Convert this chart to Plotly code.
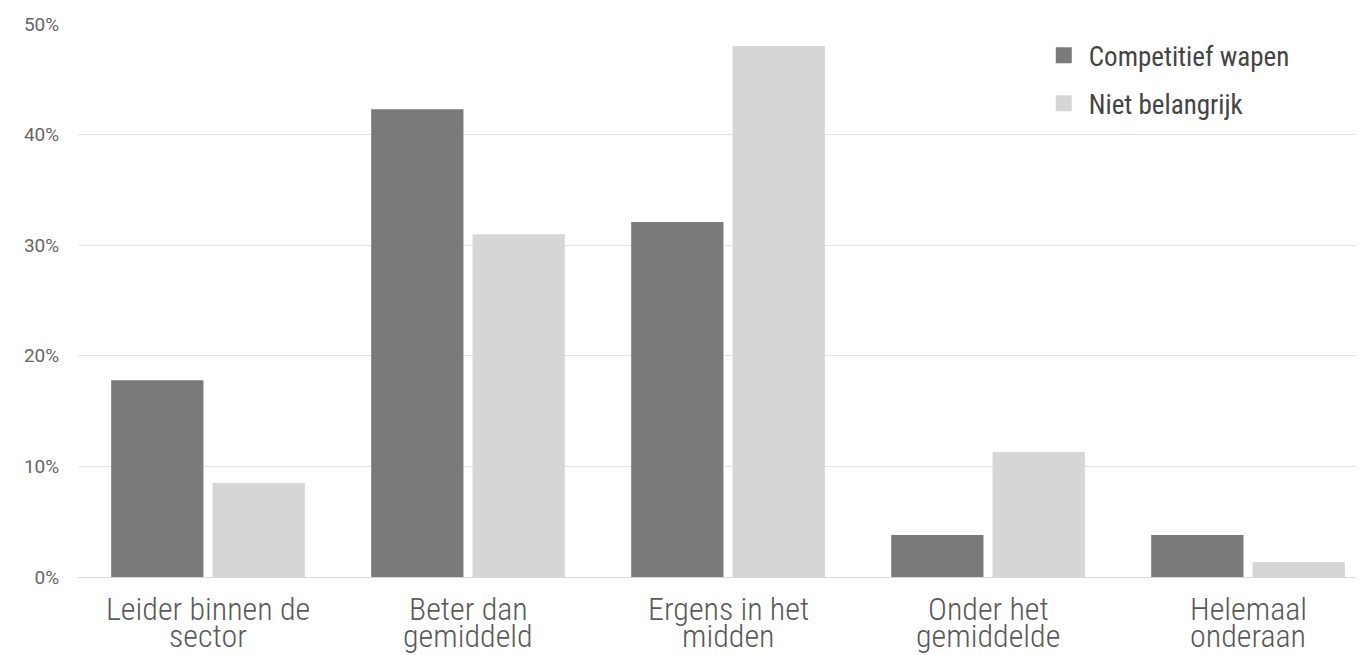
import plotly.graph_objects as go

categories = ["Leider binnen de<br>sector", "Beter dan<br>gemiddeld", "Ergens in het<br>midden",
              "Onder het<br>gemiddelde", "Helemaal<br>onderaan"]
competitief = [0.178, 0.423, 0.321, 0.038, 0.038]
niet_belangrijk = [0.085, 0.310, 0.480, 0.113, 0.0135]
tick_vals = [0, 0.1, 0.2, 0.3, 0.4, 0.5]
tick_text = ["0%", "10%", "20%", "30%", "40%", "50%"]

DARK = "#7a7a7a"
LIGHT = "#d6d6d6"
xs = list(range(len(categories)))

fig = go.Figure()
fig.add_trace(go.Bar(x=xs, y=competitief, name="Competitief wapen",
                     marker=dict(color=DARK, line=dict(width=0)), showlegend=False))
fig.add_trace(go.Bar(x=xs, y=niet_belangrijk, name="Niet belangrijk",
                     marker=dict(color=LIGHT, line=dict(width=0)), showlegend=False))
# legend entries with square symbols
fig.add_trace(go.Scatter(x=[None], y=[None], mode="markers", name="Competitief wapen",
                         marker=dict(symbol="square", size=16, color=DARK), legendgroup="a"))
fig.add_trace(go.Scatter(x=[None], y=[None], mode="markers", name="Niet belangrijk",
                         marker=dict(symbol="square", size=16, color=LIGHT), legendgroup="b"))

# category labels as two-line annotations with tight line spacing
for i, lab in enumerate(categories):
    lines = lab.split("<br>")
    for j, ln in enumerate(lines):
        fig.add_annotation(x=xs[i], xref="x", y=0, yref="paper", text=ln, showarrow=False,
                           xanchor="center", yanchor="middle", yshift=-32 - 27 * j,
                           font=dict(size=32, family="Roboto Condensed, Roboto", color="#595959", weight=300))

fig.update_layout(
    width=1356, height=647,
    margin=dict(l=70, r=0, t=16, b=78, autoexpand=False),
    paper_bgcolor="white", plot_bgcolor="white",
    barmode="group", bargap=0.22, bargroupgap=0.09,
    font=dict(family="Roboto", color="#555555"),
    showlegend=True,
    legend=dict(x=0.7471, y=0.987, xanchor="left", yanchor="top",
                font=dict(size=27, family="Roboto Condensed, Roboto", color="#444444"),
                itemwidth=40,
                tracegroupgap=10, bgcolor="rgba(0,0,0,0)", itemclick=False),
    xaxis=dict(range=[-0.5, 4.446], tickmode="array", tickvals=xs,
               showticklabels=False, showgrid=False, zeroline=False,
               showline=True, linecolor="#d9d9d9", linewidth=1, ticks=""),
    yaxis=dict(range=[0, 0.5], tickmode="array", tickvals=tick_vals, ticktext=tick_text,
               showgrid=True, gridcolor="#e3e3e3", gridwidth=1, zeroline=False,
               automargin=False,
               tickfont=dict(size=19, family="Roboto", color="#666666"),
               ticks="outside", ticklen=14, tickcolor="rgba(0,0,0,0)"),
)

fig.write_html("out.html")
